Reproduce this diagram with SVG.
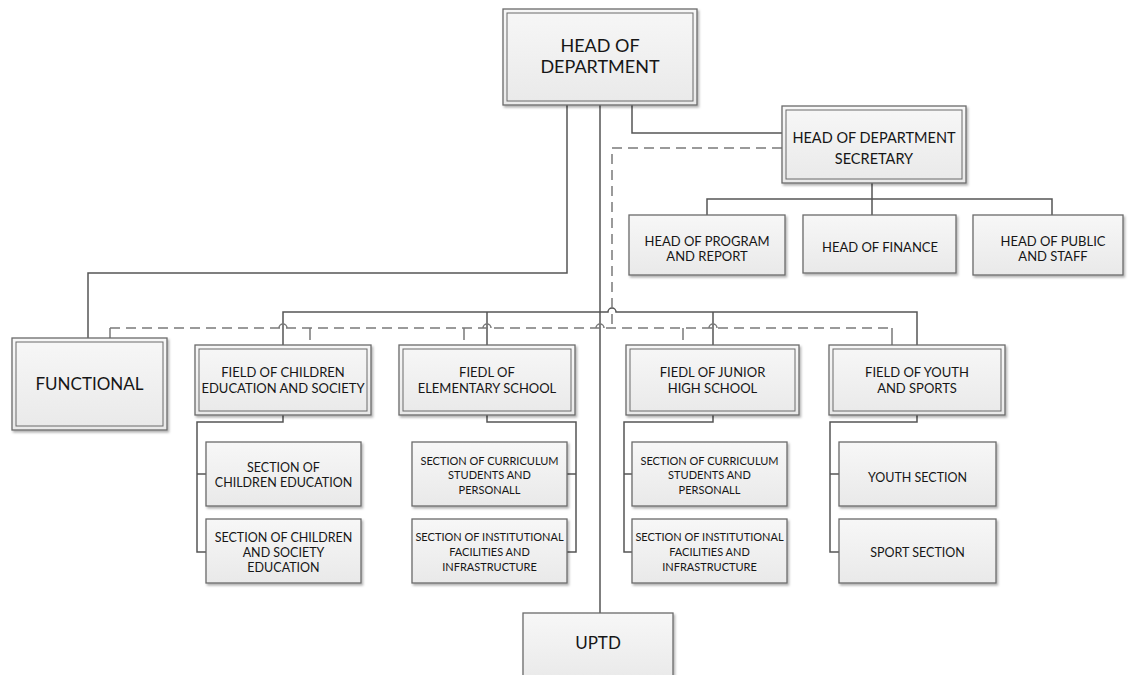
<svg xmlns="http://www.w3.org/2000/svg" width="1130" height="675" viewBox="0 0 1130 675">
<style>
.box{fill:url(#g);stroke:#6a6a6a;stroke-width:1.3;filter:url(#sh)}
.in{fill:none;stroke:#6a6a6a;stroke-width:1}
.t{font-family:Lato,"Open Sans",sans-serif;fill:#161616;text-anchor:middle}
.c{fill:none;stroke:#555;stroke-width:1.5}
.d{fill:none;stroke:#7a7a7a;stroke-width:1.5;stroke-dasharray:10 6}
.tk{fill:none;stroke:#7a7a7a;stroke-width:1.5}
</style>
<defs>
<linearGradient id="g" x1="0" y1="0" x2="0" y2="1">
<stop offset="0" stop-color="#f7f7f7"/>
<stop offset="1" stop-color="#e9e9e9"/>
</linearGradient>
<filter id="sh" x="-10%" y="-10%" width="120%" height="130%">
<feDropShadow dx="1.5" dy="2" stdDeviation="1.2" flood-color="#000" flood-opacity="0.3"/>
</filter>
</defs>
<rect width="1130" height="675" fill="#fff"/>

<g id="connectors">
<path class="c" d="M600,105 V613"/>
<path class="c" d="M567,105 V273 H88 V338"/>
<path class="c" d="M632,105 V133 H782"/>
<path class="c" d="M872,183 V215 M707,215 V199 H1052 V215"/>
<path class="c" d="M283,345 V312 H608 a4,4 0 0 1 8,0 H917 V345 M487,312 V345 M713,312 V345"/>
<path class="c" d="M283,415 V422 H197 V552 H206 M197,474 H206"/>
<path class="c" d="M487,415 V422 H576 V552 H567 M576,474 H567"/>
<path class="c" d="M713,415 V422 H624 V552 H632 M624,474 H632"/>
<path class="c" d="M917,415 V422 H830 V552 H839 M830,474 H839"/>
<path class="d" d="M782,148 H612 V328"/>
<path class="d" d="M110,328 H892"/>
<path class="tk" d="M279,328 a4,4 0 0 1 8,0 M483,328 a4,4 0 0 1 8,0 M596,328 a4,4 0 0 1 8,0 M709,328 a4,4 0 0 1 8,0"/>
<path class="tk" d="M110,328 V338 M310,328 V340 M464,328 V340 M683,328 V340 M892,328 V345"/>
</g>

<g id="head-of-department">
<rect class="box" x="503" y="9" width="194" height="96"/>
<rect class="in" x="507" y="13" width="186" height="88"/>
<text class="t" x="600" y="52" font-size="18">HEAD OF</text>
<text class="t" x="600" y="73" font-size="18">DEPARTMENT</text>
</g>

<g id="secretary">
<rect class="box" x="782" y="106" width="184" height="77"/>
<rect class="in" x="786" y="110" width="176" height="69"/>
<text class="t" x="874" y="143" font-size="14.5">HEAD OF DEPARTMENT</text>
<text class="t" x="874" y="164" font-size="14.5">SECRETARY</text>
</g>

<g id="program">
<rect class="box" x="629" y="215" width="156" height="60"/>
<text class="t" x="707" y="246" font-size="13">HEAD OF PROGRAM</text>
<text class="t" x="707" y="261" font-size="13">AND REPORT</text>
</g>
<g id="finance">
<rect class="box" x="803" y="215" width="153" height="58"/>
<text class="t" x="880" y="252" font-size="13">HEAD OF FINANCE</text>
</g>
<g id="public">
<rect class="box" x="973" y="215" width="150" height="60"/>
<text class="t" x="1053" y="246" font-size="13">HEAD OF PUBLIC</text>
<text class="t" x="1053" y="261" font-size="13">AND STAFF</text>
</g>

<g id="functional">
<rect class="box" x="12" y="338" width="155" height="92"/>
<rect class="in" x="16" y="342" width="147" height="84"/>
<text class="t" x="89.5" y="390" font-size="17">FUNCTIONAL</text>
</g>

<g id="field-children">
<rect class="box" x="195" y="345" width="176" height="70"/>
<rect class="in" x="199" y="349" width="168" height="62"/>
<text class="t" x="283" y="377" font-size="13">FIELD OF CHILDREN</text>
<text class="t" x="283" y="393" font-size="13">EDUCATION AND SOCIETY</text>
</g>
<g id="field-elementary">
<rect class="box" x="399" y="345" width="176" height="70"/>
<rect class="in" x="403" y="349" width="168" height="62"/>
<text class="t" x="487" y="377" font-size="13">FIEDL OF</text>
<text class="t" x="487" y="393" font-size="13">ELEMENTARY SCHOOL</text>
</g>
<g id="field-junior">
<rect class="box" x="626" y="345" width="173" height="70"/>
<rect class="in" x="630" y="349" width="165" height="62"/>
<text class="t" x="712.5" y="377" font-size="13">FIEDL OF JUNIOR</text>
<text class="t" x="712.5" y="393" font-size="13">HIGH SCHOOL</text>
</g>
<g id="field-youth">
<rect class="box" x="829" y="345" width="176" height="70"/>
<rect class="in" x="833" y="349" width="168" height="62"/>
<text class="t" x="917" y="377" font-size="13">FIELD OF YOUTH</text>
<text class="t" x="917" y="393" font-size="13">AND SPORTS</text>
</g>

<g id="sec-children-education">
<rect class="box" x="206" y="442" width="155" height="64"/>
<text class="t" x="283.5" y="472" font-size="12.5">SECTION OF</text>
<text class="t" x="283.5" y="487" font-size="12.5">CHILDREN EDUCATION</text>
</g>
<g id="sec-children-society">
<rect class="box" x="206" y="519" width="155" height="64"/>
<text class="t" x="283.5" y="542" font-size="12.5">SECTION OF CHILDREN</text>
<text class="t" x="283.5" y="557" font-size="12.5">AND SOCIETY</text>
<text class="t" x="283.5" y="572" font-size="12.5">EDUCATION</text>
</g>
<g id="sec-elem-curriculum">
<rect class="box" x="412" y="442" width="155" height="64"/>
<text class="t" x="489.5" y="465" font-size="11">SECTION OF CURRICULUM</text>
<text class="t" x="489.5" y="479" font-size="11">STUDENTS AND</text>
<text class="t" x="489.5" y="494" font-size="11">PERSONALL</text>
</g>
<g id="sec-elem-facilities">
<rect class="box" x="412" y="519" width="155" height="64"/>
<text class="t" x="489.5" y="541" font-size="11">SECTION OF INSTITUTIONAL</text>
<text class="t" x="489.5" y="556" font-size="11">FACILITIES AND</text>
<text class="t" x="489.5" y="571" font-size="11">INFRASTRUCTURE</text>
</g>
<g id="sec-junior-curriculum">
<rect class="box" x="632" y="442" width="155" height="64"/>
<text class="t" x="709.5" y="465" font-size="11">SECTION OF CURRICULUM</text>
<text class="t" x="709.5" y="479" font-size="11">STUDENTS AND</text>
<text class="t" x="709.5" y="494" font-size="11">PERSONALL</text>
</g>
<g id="sec-junior-facilities">
<rect class="box" x="632" y="519" width="155" height="64"/>
<text class="t" x="709.5" y="541" font-size="11">SECTION OF INSTITUTIONAL</text>
<text class="t" x="709.5" y="556" font-size="11">FACILITIES AND</text>
<text class="t" x="709.5" y="571" font-size="11">INFRASTRUCTURE</text>
</g>
<g id="sec-youth">
<rect class="box" x="839" y="442" width="157" height="64"/>
<text class="t" x="917.5" y="482" font-size="12.5">YOUTH SECTION</text>
</g>
<g id="sec-sport">
<rect class="box" x="839" y="519" width="157" height="64"/>
<text class="t" x="917.5" y="557" font-size="12.5">SPORT SECTION</text>
</g>

<g id="uptd">
<rect class="box" x="523" y="613" width="150" height="70"/>
<text class="t" x="598" y="649" font-size="17">UPTD</text>
</g>
</svg>
